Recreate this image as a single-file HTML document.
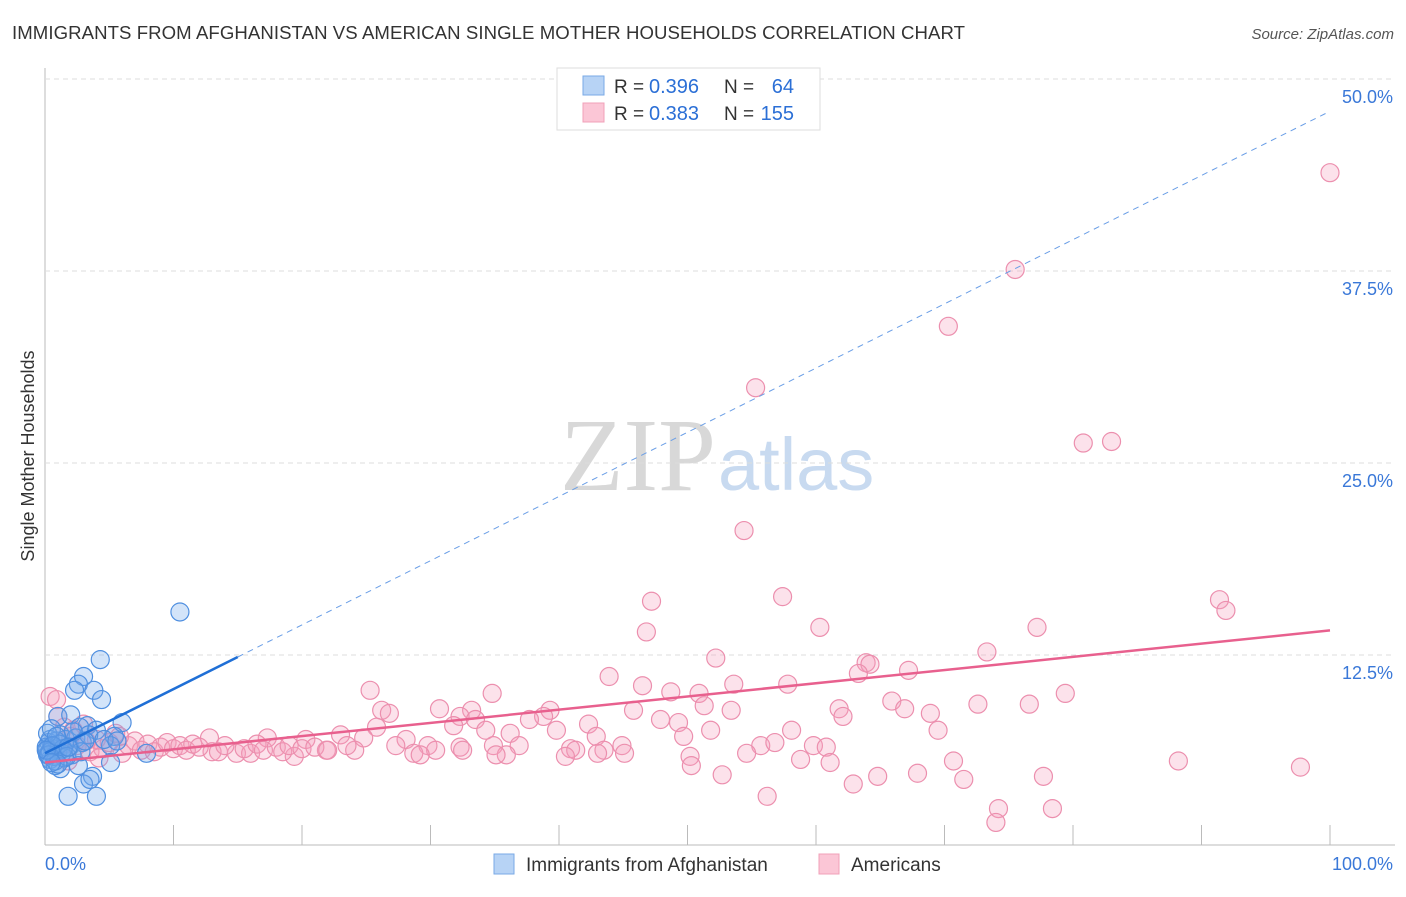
<!DOCTYPE html>
<html><head><meta charset="utf-8"><style>
body{margin:0;background:#fff;font-family:"Liberation Sans",sans-serif;}
</style></head><body>
<svg id="c" width="1406" height="892" xmlns="http://www.w3.org/2000/svg" font-family="Liberation Sans, sans-serif">
<text x="12" y="39" font-size="18.6" fill="#333" textLength="953">IMMIGRANTS FROM AFGHANISTAN VS AMERICAN SINGLE MOTHER HOUSEHOLDS CORRELATION CHART</text>
<text x="1394" y="39" font-size="15" fill="#555" font-style="italic" text-anchor="end">Source: ZipAtlas.com</text>
<text x="716" y="490" font-size="104" fill="#d8d8d8" text-anchor="end" font-family="Liberation Serif, serif">ZIP</text>
<text x="718" y="490" font-size="74" fill="#c8daf0">atlas</text>
<text transform="translate(34,456) rotate(-90)" font-size="18" fill="#333" text-anchor="middle">Single Mother Households</text>
<g id="grid"></g><g id="pts"></g><g id="lines"></g>
<g>
<rect x="557" y="68" width="263" height="62" fill="#fff" stroke="#ddd"/>
<rect x="583" y="76" width="21" height="19" fill="#b7d3f5" stroke="#7aaae6"/>
<rect x="583" y="103" width="21" height="19" fill="#fbc6d6" stroke="#f0a0b8"/>
<text x="614" y="93" font-size="19" fill="#333">R =</text>
<text x="649" y="93" font-size="20" fill="#2b6fd6">0.396</text>
<text x="724" y="93" font-size="19" fill="#333">N =</text>
<text x="794" y="93" font-size="20" fill="#2b6fd6" text-anchor="end">64</text>
<text x="614" y="120" font-size="19" fill="#333">R =</text>
<text x="649" y="120" font-size="20" fill="#2b6fd6">0.383</text>
<text x="724" y="120" font-size="19" fill="#333">N =</text>
<text x="794" y="120" font-size="20" fill="#2b6fd6" text-anchor="end">155</text>
</g>
<g>
<rect x="494" y="854" width="20" height="20" fill="#b7d3f5" stroke="#7aaae6"/>
<text x="526" y="871" font-size="19" fill="#333">Immigrants from Afghanistan</text>
<rect x="819" y="854" width="20" height="20" fill="#fbc6d6" stroke="#f0a0b8"/>
<text x="851" y="871" font-size="19" fill="#333">Americans</text>
</g>
</svg>
<script>
const yTicks=[12.5,25,37.5,50];
const yTickLabels=["12.5%","25.0%","37.5%","50.0%"];
const xTicks=[0,10,20,30,40,50,60,70,80,90,100];
const blueX=[10.5,4.3,3.0,2.6,2.3,3.8,4.4,1.0,2.0,6.0,3.3,2.7,4.0,1.2,5.4,0.4,1.6,5.1,0.5,0.2,1.0,2.1,7.9,5.1,0.4,1.2,2.6,3.7,3.0,1.8,4.0,3.5,0.2,0.8,1.9,0.3,0.6,0.9,1.3,1.5,0.1,0.4,0.7,1.1,1.4,2.4,2.9,3.4,0.2,0.5,0.8,1.7,2.2,0.3,0.6,1.0,4.6,5.6,2.8,0.1,0.9,1.8,3.1,0.5];
const blueY=[15.3,12.2,11.1,10.6,10.2,10.2,9.6,8.5,8.6,8.1,7.9,7.8,7.6,7.3,7.2,7.0,7.0,6.6,6.6,6.3,6.2,6.0,6.1,5.5,5.7,5.1,5.3,4.6,4.1,3.3,3.3,4.4,6.0,5.3,6.5,6.8,6.4,6.9,6.1,5.8,6.5,6.2,5.9,6.7,6.4,7.1,6.8,7.3,7.4,7.7,5.6,5.9,7.5,6.0,6.6,5.4,7.0,6.9,6.2,6.3,7.2,6.5,6.9,5.5];
const pinkX=[0.4,0.9,100,75.5,70.3,55.3,80.8,83.0,54.4,47.2,57.4,91.4,91.9,46.8,60.3,77.2,52.2,73.3,63.9,64.2,63.3,67.2,43.9,46.5,53.6,57.8,48.7,50.9,25.3,34.8,79.4,65.9,72.6,76.6,51.3,45.8,53.4,61.8,66.9,68.9,30.7,26.2,26.8,33.2,39.3,38.8,62.1,32.3,33.5,37.7,47.9,49.3,42.3,25.8,51.8,58.1,69.5,34.3,36.2,39.8,31.8,49.7,42.9,28.1,24.8,23.0,20.3,17.3,12.8,36.9,27.3,29.8,32.3,34.9,44.9,55.7,56.8,59.8,60.8,40.9,41.3,43.5,45.1,30.4,32.5,28.7,29.2,24.1,21.9,19.4,14.9,16.0,13.0,54.6,50.2,43.0,40.5,35.9,35.1,70.7,61.1,58.8,88.2,97.7,50.3,52.7,67.9,64.8,71.5,77.7,62.9,56.2,74.2,78.4,74.0,
1.0,1.5,2.0,2.5,3.0,3.5,4.0,4.5,5.0,5.5,6.0,6.5,7.0,7.5,8.0,8.5,9.0,9.5,10.0,10.5,11.0,11.5,12.0,13.5,14.0,15.5,16.5,17.0,18.0,18.5,19.0,20.0,21.0,22.0,23.5,2.2,3.2,4.2,1.8,5.8];
const pinkY=[9.8,9.6,43.9,37.6,33.9,29.9,26.3,26.4,20.6,16.0,16.3,16.1,15.4,14.0,14.3,14.3,12.3,12.7,12.0,11.9,11.3,11.5,11.1,10.5,10.6,10.6,10.1,10.0,10.2,10.0,10.0,9.5,9.3,9.3,9.2,8.9,8.9,9.0,9.0,8.7,9.0,8.9,8.7,8.9,8.9,8.5,8.5,8.5,8.3,8.3,8.3,8.1,8.0,7.8,7.6,7.6,7.6,7.6,7.4,7.6,7.9,7.2,7.2,7.0,7.1,7.3,7.0,7.1,7.1,6.6,6.6,6.6,6.5,6.6,6.6,6.6,6.8,6.6,6.5,6.4,6.3,6.3,6.1,6.3,6.3,6.1,6.0,6.3,6.3,5.9,6.1,6.1,6.2,6.1,5.9,6.1,5.9,6.0,6.0,5.6,5.5,5.7,5.6,5.2,5.3,4.7,4.8,4.6,4.4,4.6,4.1,3.3,2.5,2.5,1.6,
8.5,7.8,7.2,6.6,8.0,6.2,7.0,6.4,6.8,7.4,6.1,6.6,6.9,6.3,6.7,6.2,6.5,6.8,6.4,6.6,6.3,6.7,6.5,6.2,6.6,6.4,6.7,6.3,6.5,6.2,6.6,6.4,6.5,6.3,6.6,7.6,6.9,5.8,5.6,7.2];
const blueTrend=[6.1,47.9];
const pinkTrend=[5.5,14.1];
const blueSolidEnd=15;
const NS="http://www.w3.org/2000/svg";
const xs=v=>45+v*12.85, ys=v=>847-v*15.36;
function mk(t,a,p){const e=document.createElementNS(NS,t);for(const k in a)e.setAttribute(k,a[k]);p.appendChild(e);return e;}
const grid=document.getElementById('grid'),pts=document.getElementById('pts'),lines=document.getElementById('lines');
let ax=mk('line',{x1:45,y1:68,x2:45,y2:845,stroke:'#bbb'},grid);


let bx=mk('line',{x1:45,y1:845,x2:1395,y2:845,stroke:'#bbb'},grid);


yTicks.forEach((t,i)=>{
 const g=mk('line',{x1:45,x2:1395,y1:ys(t),y2:ys(t),stroke:'#ddd','stroke-dasharray':'5,4'},grid);
 
 
 const l=mk('text',{x:1393,y:ys(t)+24,'text-anchor':'end','font-size':18,fill:'#3a78d8'},grid);l.textContent=yTickLabels[i];
 
 
});
xTicks.forEach(t=>{const k=mk('line',{x1:xs(t),x2:xs(t),y1:825,y2:845,stroke:'#bbb'},grid);
 
 });
let x0=mk('text',{x:45,y:870,'font-size':18,fill:'#3a78d8'},grid);x0.textContent='0.0%';


let x1=mk('text',{x:1393,y:870,'font-size':18,fill:'#3a78d8','text-anchor':'end'},grid);x1.textContent='100.0%';


pinkX.forEach((x,i)=>{const c=mk('circle',{cx:xs(x),cy:ys(pinkY[i]),r:9,fill:'rgba(244,160,188,0.3)',stroke:'#ec8fae','stroke-width':1.2},pts);
 
 });
blueX.forEach((x,i)=>{const c=mk('circle',{cx:xs(x),cy:ys(blueY[i]),r:9,fill:'rgba(110,165,235,0.3)',stroke:'#4f8fe0','stroke-width':1.2},pts);
 
 });
const by=x=>blueTrend[0]+(blueTrend[1]-blueTrend[0])*x/100;
let bs=mk('line',{x1:xs(0),y1:ys(by(0)),x2:xs(blueSolidEnd),y2:ys(by(blueSolidEnd)),stroke:'#1f6fd6','stroke-width':2.5},lines);


let bd=mk('line',{x1:xs(blueSolidEnd),y1:ys(by(blueSolidEnd)),x2:xs(100),y2:ys(by(100)),stroke:'#6a9ee6','stroke-width':1,'stroke-dasharray':'6,5'},lines);


let pl=mk('line',{x1:xs(0),y1:ys(pinkTrend[0]),x2:xs(100),y2:ys(pinkTrend[1]),stroke:'#e8608e','stroke-width':2.5},lines);


</script>
</body></html>
